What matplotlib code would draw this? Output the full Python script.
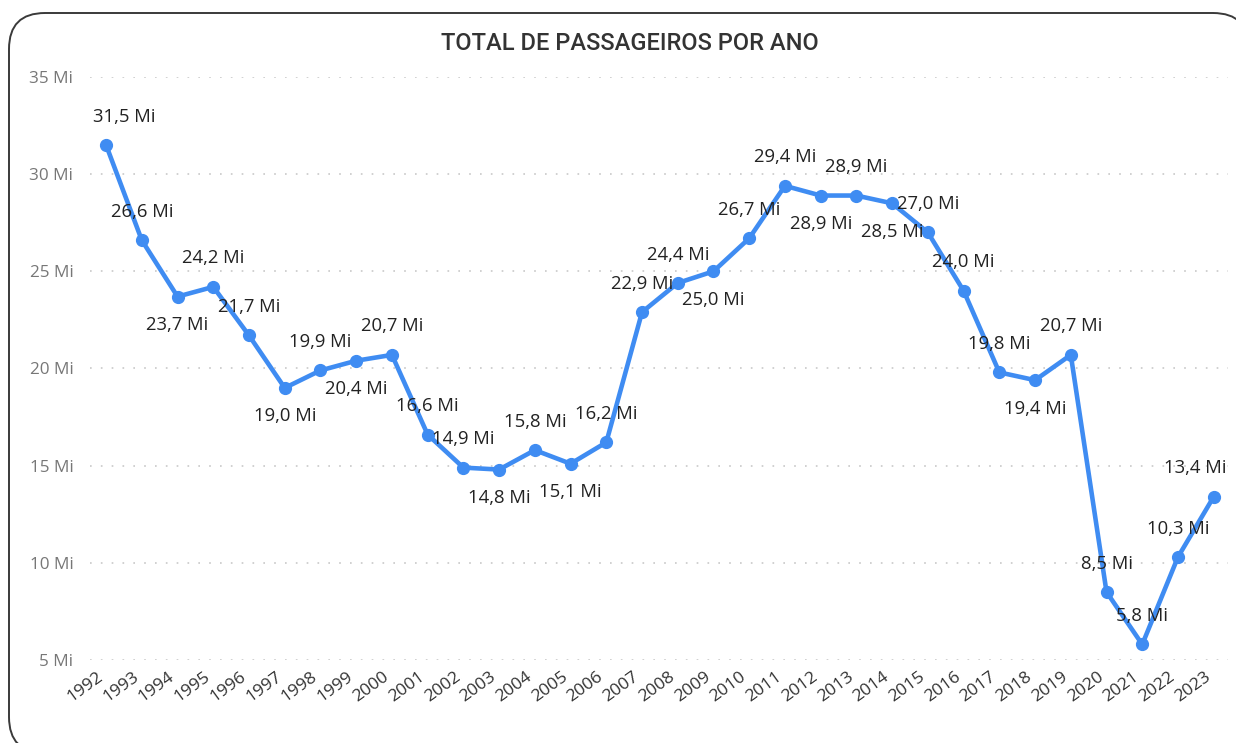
import matplotlib
matplotlib.use("Agg")
import matplotlib.pyplot as plt
from matplotlib.patches import FancyBboxPatch
from matplotlib.transforms import ScaledTranslation

years = [str(y) for y in range(1992, 2024)]
passengers = [31.5, 26.6, 23.7, 24.2, 21.7, 19.0, 19.9, 20.4, 20.7, 16.6,
              14.9, 14.8, 15.8, 15.1, 16.2, 22.9, 24.4, 25.0, 26.7, 29.4,
              28.9, 28.9, 28.5, 27.0, 24.0, 19.8, 19.4, 20.7, 8.5, 5.8,
              10.3, 13.4]
label_side = ['a', 'a', 'b', 'a', 'a', 'b', 'a', 'b', 'a', 'a',
              'a', 'b', 'a', 'b', 'a', 'a', 'a', 'b', 'a', 'a',
              'b', 'a', 'b', 'a', 'a', 'a', 'b', 'a', 'a', 'a',
              'a', 'a']
yticks = [5, 10, 15, 20, 25, 30, 35]
title = "TOTAL DE PASSAGEIROS POR ANO"

W, H = 1236, 743
fig = plt.figure(figsize=(W / 100, H / 100), dpi=100)
fig.patch.set_facecolor("white")

# rounded card border
bg = fig.add_axes([0, 0, 1, 1])
bg.set_xlim(0, W)
bg.set_ylim(H, 0)
bg.axis("off")
bg.add_patch(FancyBboxPatch((9, 13), 1240, 740,
                            boxstyle="round,pad=0,rounding_size=36",
                            fc="white", ec="#3a3a3a", lw=1.4))

left, right = 90 / W, 1228 / W
top, bottom = 1 - 77 / H, 1 - 660 / H
ax = fig.add_axes([left, bottom, right - left, top - bottom])
ax.set_facecolor("none")

x = list(range(len(years)))
color = "#3F8CF2"
ax.plot(x, passengers, color=color, lw=3.3, marker="o", ms=8.5,
        solid_joinstyle="round", zorder=3)

n = len(x)
for i, (xi, v, side) in enumerate(zip(x, passengers, label_side)):
    dy = 20.5 if side == 'a' else -20.5
    dx = 13 if i == 0 else (-13 if i == n - 1 else 0)
    ax.annotate(f"{v:.1f}".replace(".", ",") + " Mi", (xi, v),
                xytext=(dx, dy), textcoords="offset points",
                ha="center", va="center", fontsize=13.3,
                family="Open Sans", color="#222222", zorder=4)

ax.set_ylim(5, 35)
ax.set_xlim(-0.45, 31.4)
ax.set_yticks(yticks)
ax.set_yticklabels([f"{t} Mi" for t in yticks], family="Open Sans",
                   fontsize=12.3, color="#777777")
ax.set_xticks(x)
ax.set_xticklabels(years, rotation=36, ha="right", va="top",
                   family="Open Sans", fontsize=12.6, color="#333333")
off = ScaledTranslation(-10 / 100, 0, fig.dpi_scale_trans)
for lab in ax.get_xticklabels():
    lab.set_transform(lab.get_transform() + off)
ax.tick_params(axis="both", length=0)
ax.tick_params(axis="y", pad=12)
ax.tick_params(axis="x", pad=6)
for s in ax.spines.values():
    s.set_visible(False)
ax.grid(axis="y", color="#c8c8c8", lw=1.2, linestyle=(0, (1, 5.5)))
ax.set_axisbelow(True)

fig.text(630 / W, 1 - 43 / H, title, ha="center", va="center",
         fontsize=17, family="Roboto", fontweight="medium", color="#333333")

fig.savefig("out.png", dpi=100)
